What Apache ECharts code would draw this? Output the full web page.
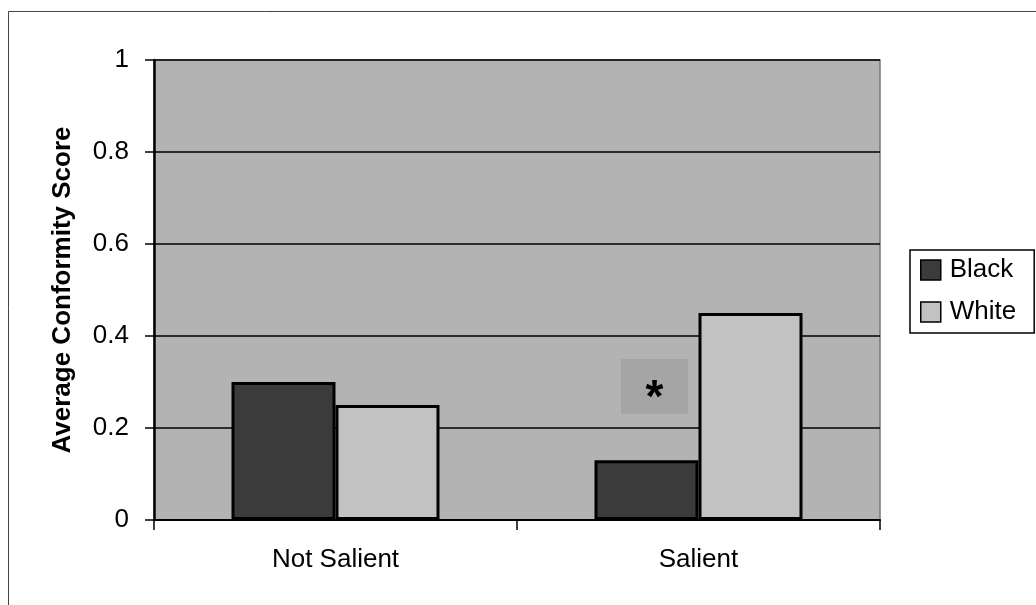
<!DOCTYPE html>
<html>
<head>
<meta charset="utf-8">
<script src="https://cdn.jsdelivr.net/npm/echarts@6/dist/echarts.min.js"></script>
<style>
  html, body { margin: 0; padding: 0; background: #fff; }
  #main { width: 1036px; height: 605px; }
</style>
</head>
<body>
<div id="main"></div>
<script>
const categories = ['Not Salient', 'Salient']
const blackScores = [0.30, 0.13]
const whiteScores = [0.25, 0.45]
const yTicks = [0, 0.2, 0.4, 0.6, 0.8, 1]
// asterisk marks the significant difference in the Salient group
const starAt = ['Salient', 0.29]

const font = '"Liberation Sans", Arial, sans-serif'
const chart = echarts.init(document.getElementById('main'))

chart.setOption({
  animation: false,
  backgroundColor: '#fff',
  textStyle: { fontFamily: font },
  graphic: [{
    type: 'rect',
    shape: { x: 8.5, y: 11.5, width: 1100, height: 700 },
    style: { fill: 'none', stroke: '#444', lineWidth: 1 },
    silent: true
  }],
  grid: {
    left: 154,
    right: 156,
    top: 60,
    bottom: 85,
    show: true,
    backgroundColor: '#b3b3b3',
    borderColor: '#7a7a7a',
    borderWidth: 1.5
  },
  legend: {
    orient: 'vertical',
    left: 910,
    top: 250,
    padding: [7, 18, 8, 10],
    itemGap: 16,
    itemWidth: 20,
    itemHeight: 20,
    icon: 'rect',
    backgroundColor: '#fff',
    borderColor: '#000',
    borderWidth: 1.5,
    itemStyle: { borderColor: '#000', borderWidth: 1.5 },
    textStyle: { fontSize: 26, color: '#000', fontFamily: font, lineHeight: 26, padding: [0, 0, 0, 4] },
    data: ['Black', 'White']
  },
  xAxis: {
    type: 'category',
    data: categories,
    axisLine: { lineStyle: { color: '#000', width: 2 } },
    axisTick: { show: true, length: 10, lineStyle: { color: '#000', width: 1.5 } },
    axisLabel: { fontSize: 26, color: '#000', margin: 27, fontFamily: font },
    splitLine: { show: false }
  },
  yAxis: {
    type: 'value',
    min: yTicks[0],
    max: yTicks[yTicks.length - 1],
    interval: 0.2,
    name: 'Average Conformity Score',
    nameLocation: 'middle',
    nameGap: 78,
    nameTextStyle: { fontSize: 26, fontWeight: 'bold', color: '#000', fontFamily: font },
    axisLine: { show: true, lineStyle: { color: '#000', width: 2.5 } },
    axisTick: { show: true, length: 9, lineStyle: { color: '#000', width: 1.5 } },
    axisLabel: {
      fontSize: 26,
      color: '#000',
      margin: 25,
      fontFamily: font,
      formatter: v => String(Math.round(v * 10) / 10)
    },
    splitLine: { show: true, lineStyle: { color: '#000', width: 1.5 } }
  },
  series: [
    {
      name: 'Black',
      type: 'bar',
      data: blackScores,
      barGap: '0%',
      barCategoryGap: '42.7%',
      itemStyle: { color: '#3b3b3b', borderColor: '#000', borderWidth: 3 },
      markPoint: {
        silent: true,
        symbol: 'rect',
        symbolSize: [67, 55],
        symbolOffset: [8, 0],
        itemStyle: { color: '#a5a5a5', borderWidth: 0 },
        label: {
          show: true,
          formatter: '*',
          fontSize: 46,
          fontWeight: 'bold',
          color: '#000',
          offset: [0, 13],
          fontFamily: font
        },
        data: [{ coord: starAt }]
      }
    },
    {
      name: 'White',
      type: 'bar',
      data: whiteScores,
      barGap: '0%',
      barCategoryGap: '42.7%',
      itemStyle: { color: '#c2c2c2', borderColor: '#000', borderWidth: 3 }
    }
  ]
})
</script>
</body>
</html>
